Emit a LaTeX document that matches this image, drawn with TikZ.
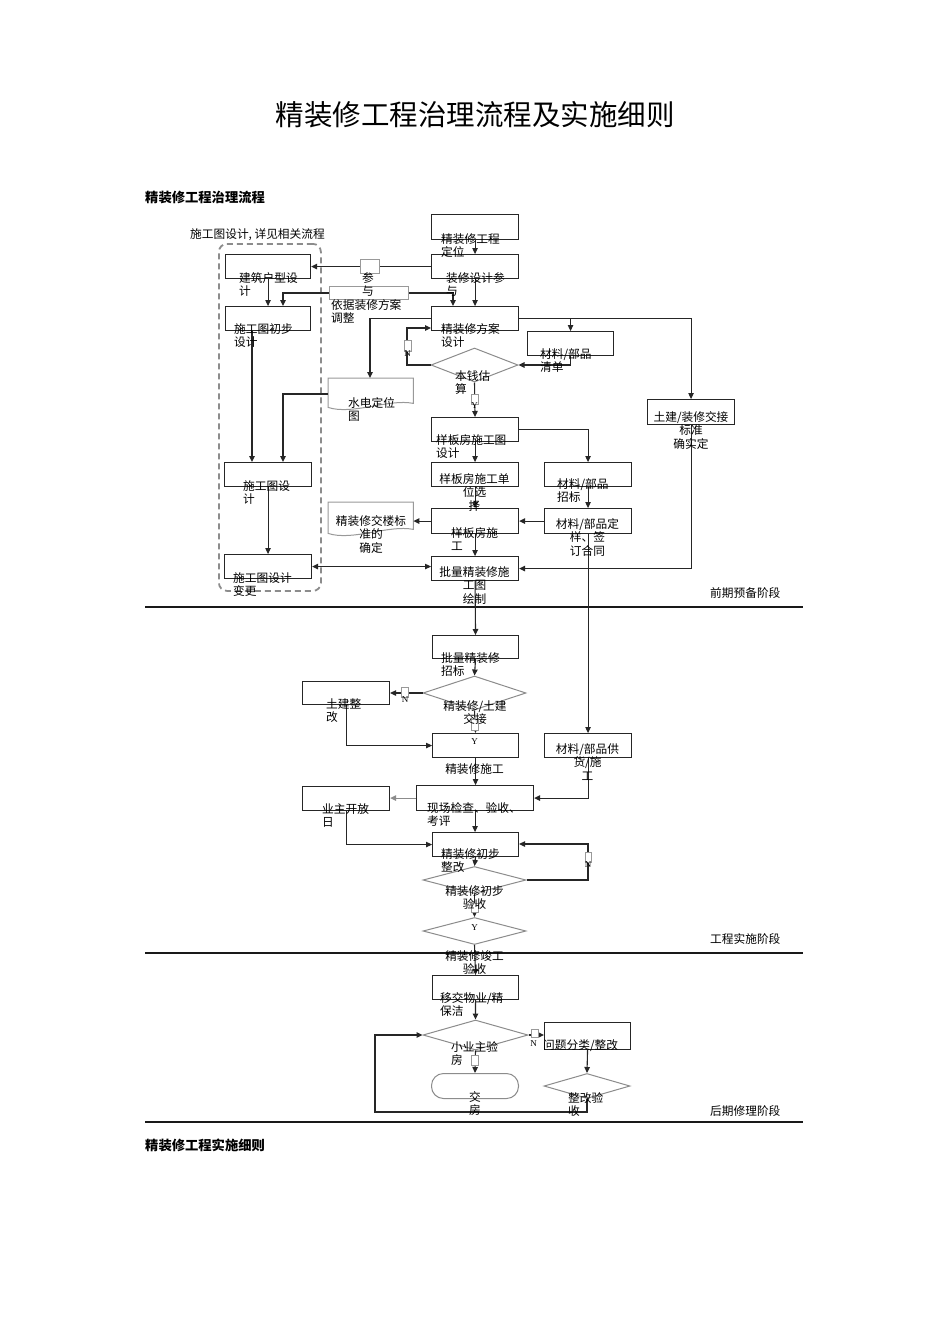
\documentclass[tikz,border=0pt]{standalone}
\usepackage{fontspec}
\setmainfont{Liberation Serif}
\newfontfamily\cjk{Noto Sans CJK SC}
\usetikzlibrary{arrows.meta,shapes.geometric,calc}
\begin{document}
\begin{tikzpicture}[x=1pt,y=-1pt,
  box/.style={draw=black!85,line width=1.1pt,rectangle,inner sep=0pt,anchor=north west},
  dia/.style={draw=black!45,line width=1pt,diamond,inner sep=0pt},
  docshape/.style={draw=black!40,fill=white,line width=1pt},
  tag/.style={draw=black!40,fill=white,line width=0.5pt,rectangle,inner sep=0pt,anchor=north west},
  lbl/.style={inner sep=0pt,anchor=north west,align=left,font=\cjk\fontsize{11.7}{13.5}\selectfont},
  lblc/.style={inner sep=0pt,anchor=north,align=center,font=\cjk\fontsize{11.7}{13.5}\selectfont},
  phase/.style={inner sep=0pt,anchor=north west,font=\cjk\fontsize{11.7}{13.5}\selectfont},
  yn/.style={inner sep=0pt,font=\fontsize{9}{10}\selectfont},
  arr/.style={draw=black!85,line width=1.1pt,-{Triangle[length=6pt,width=5.5pt]}},
  arrg/.style={draw=black!45,line width=1.1pt,-{Triangle[length=6pt,width=5.5pt]}},
  arrb/.style={draw=black!85,line width=1.1pt,{Triangle[length=6pt,width=5.5pt]}-{Triangle[length=6pt,width=5.5pt]}},
]
\useasboundingbox[fill=white] (0,0) rectangle (950,1344);

% title and headings
\node[inner sep=0pt,font=\cjk\fontsize{28.5}{30}\selectfont] (title) at (475,115) {精装修工程治理流程及实施细则};
\node[inner sep=0pt,anchor=west,font=\cjk\bfseries\fontsize{13.3}{15}\selectfont] (h1) at (145,197) {精装修工程治理流程};
\node[inner sep=0pt,anchor=west,font=\cjk\bfseries\fontsize{13.3}{15}\selectfont] (h2) at (145,1145) {精装修工程实施细则};

% dashed group
\node[draw=black!45,dash pattern=on 6pt off 4pt,line width=1.8pt,rounded corners=8pt,minimum width=102pt,minimum height=347pt,anchor=north west,inner sep=0pt] (grp) at (218,243) {};

% phase separators
\draw[line width=2.2pt,black!90] (145,607) -- (803,607);
\draw[line width=1.1pt,black!90] (145,953) -- (803,953);
\draw[line width=2.2pt,black!90] (145,1122) -- (803,1122);

% boxes
\node[box,minimum width=87pt,minimum height=25pt] (dw) at (431,214) {};
\node[box,minimum width=87pt,minimum height=24pt] (cy) at (431,254) {};
\node[box,minimum width=85pt,minimum height=24pt] (hx) at (225,254) {};
\node[box,minimum width=85pt,minimum height=24pt] (cb) at (225,306) {};
\node[box,minimum width=87pt,minimum height=24pt] (fa) at (431,306) {};
\node[box,minimum width=86pt,minimum height=24pt] (qd) at (527,331) {};
\node[box,minimum width=87pt,minimum height=25pt] (tj) at (647,399) {};
\node[box,minimum width=87pt,minimum height=24pt] (ybt) at (431,417) {};
\node[box,minimum width=87pt,minimum height=24pt] (sgt) at (224,462) {};
\node[box,minimum width=87pt,minimum height=24pt] (xz) at (431,462) {};
\node[box,minimum width=87pt,minimum height=24pt] (zb) at (544,462) {};
\node[box,minimum width=87pt,minimum height=25pt] (yb) at (431,508) {};
\node[box,minimum width=87pt,minimum height=25pt] (dy) at (544,508) {};
\node[box,minimum width=87pt,minimum height=24pt] (bg) at (224,554) {};
\node[box,minimum width=87pt,minimum height=24pt] (ph) at (431,556) {};
\node[box,minimum width=86pt,minimum height=23pt] (pz) at (432,635) {};
\node[box,minimum width=87pt,minimum height=23pt] (tz) at (302,681) {};
\node[box,minimum width=86pt,minimum height=24pt] (jsg) at (432,733) {};
\node[box,minimum width=87pt,minimum height=24pt] (gh) at (544,733) {};
\node[box,minimum width=117pt,minimum height=25pt] (xc) at (416,785) {};
\node[box,minimum width=87pt,minimum height=24pt] (yz) at (302,786) {};
\node[box,minimum width=86pt,minimum height=24pt] (cz) at (432,832) {};
\node[box,minimum width=86pt,minimum height=24pt] (yj) at (432,975) {};
\node[box,minimum width=86pt,minimum height=27pt] (wt) at (544,1022) {};
\node[draw=black!45,line width=1pt,rounded corners=12pt,minimum width=87pt,minimum height=25pt,anchor=north west,inner sep=0pt] (jf) at (431,1073) {};

% diamonds
\node[dia,minimum width=87pt,minimum height=34pt] (d1) at (474.5,365) {};
\node[dia,minimum width=103pt,minimum height=34pt] (d2) at (474.5,693) {};
\node[dia,minimum width=103pt,minimum height=27pt] (d3) at (474.5,880) {};
\node[dia,minimum width=103pt,minimum height=27pt] (d4) at (474.5,931) {};
\node[dia,minimum width=105pt,minimum height=30pt] (d5) at (475.5,1035) {};
\node[dia,minimum width=86pt,minimum height=25pt] (d6) at (587,1086) {};

% document shapes
\node[inner sep=0pt,minimum width=85pt,minimum height=29pt,anchor=north west] (sd) at (328,378) {};
\draw[docshape] (sd.south west) -- (sd.north west) -- (sd.north east) -- ([yshift=4pt]sd.south east)
  .. controls ([xshift=18pt,yshift=9pt]sd.south) and ([xshift=-18pt,yshift=-8pt]sd.south) .. (sd.south west) -- cycle;
\node[inner sep=0pt,minimum width=85pt,minimum height=31pt,anchor=north west] (jl) at (328,502) {};
\draw[docshape] (jl.south west) -- (jl.north west) -- (jl.north east) -- ([yshift=4pt]jl.south east)
  .. controls ([xshift=18pt,yshift=9pt]jl.south) and ([xshift=-18pt,yshift=-8pt]jl.south) .. (jl.south west) -- cycle;

% connectors
\draw[arr] (dw.south) -- (cy.north);
\draw[arr] (cy.west) -- (hx.east);
\draw[arr] (cy.south) -- (fa.north);
\coordinate (adjL) at (283,293);
\coordinate (adjR) at (453,293);
\draw[arrb] ([xshift=58pt]cb.north west) -- (adjL) -- (adjR) -- ([xshift=22pt]fa.north west);
\draw[arr] (hx.south) -- (cb.north);
\draw[arr] ([xshift=27pt]cb.south west) -- ([xshift=27pt]cb.south west |- sgt.north);
\draw[arr] (fa.west) -| ([xshift=42pt]sd.north west);
\draw[arr] ([yshift=-16pt]sd.north west) -| ([xshift=59pt]sgt.north west);
\draw[arr] (fa.east) -| (tj.north);
\draw[arr] (fa.east -| qd.north) -- (qd.north);
\draw[arr] (qd.south) |- (d1.east);
\coordinate (n1) at (407,328);
\draw[arr] (d1.west) -| (n1) -- (n1 -| fa.west);
\draw[arr] (d1.south) -- (ybt.north);
\draw[arr] (ybt.south) -- (xz.north);
\draw[arr] (ybt.east) -| (zb.north);
\draw[arr] (zb.south) -- (dy.north);
\draw[arr] (dy.west) -- (yb.east);
\draw[arr] (yb.west) -- (yb.west -| jl.east);
\draw[arr] (xz.south) -- (yb.north);
\draw[arr] (yb.south) -- (ph.north);
\draw[arr] (sgt.south) -- (bg.north);
\draw[arrb] (bg.east) -- (bg.east -| ph.west);
\draw[arr] (tj.south) |- (ph.east);
\draw[arr] (dy.south) -- (gh.north);
\draw[arr] (ph.south) -- (pz.north);
\draw[arr] (pz.south) -- (d2.north);
\draw[arr] (d2.west) -- (d2.west -| tz.east);
\draw[arr] (tz.south) |- (jsg.west);
\draw[arr] (d2.south) -- (jsg.north);
\draw[arr] (jsg.south) -- (jsg.south |- xc.north);
\draw[arr] (gh.south) |- (xc.east);
\draw[arrg] (xc.west) -- (xc.west -| yz.east);
\draw[arr] (yz.south) |- (cz.west);
\draw[arr] (xc.south) -- (xc.south |- cz.north);
\draw[arr] (cz.south) -- (d3.north);
\coordinate (n3) at (588,844);
\draw[arr] (d3.east) -| (n3) -- (n3 -| cz.east);
\draw[arr] (d3.south) -- (d4.north);
\draw[arr] (d4.south) -- (yj.north);
\draw[arr] (yj.south) -- (d5.north);
\draw[arr] (d5.east) -- (d5.east -| wt.west);
\draw[arr] (wt.south) -- (d6.north);
\coordinate (lp) at (375,1112);
\draw[arr] (d6.south) |- (lp) |- (d5.west);
\draw[arr] (d5.south) -- (jf.north);

% connector tags
\node[tag,minimum width=19pt,minimum height=14pt] (tgcan) at (360,259) {};
\node[tag,minimum width=79pt,minimum height=13pt] (tgyj) at (329,286) {};
\node[tag,minimum width=7pt,minimum height=11pt] (tgn1) at (404,340) {};
\node[tag,minimum width=7pt,minimum height=10pt] (tgy1) at (471,394) {};
\node[tag,minimum width=7pt,minimum height=10pt] (tgn2) at (401,687) {};
\node[tag,minimum width=7pt,minimum height=11pt] (tgy2) at (471,719) {};
\node[tag,minimum width=6pt,minimum height=10pt] (tgn3) at (585,852) {};
\node[tag,minimum width=7pt,minimum height=9pt] (tgy3) at (471,903) {};
\node[tag,minimum width=7pt,minimum height=8pt] (tgn4) at (531,1029) {};
\node[tag,minimum width=7pt,minimum height=10pt] (tgy5) at (471,1055) {};

% Y / N letters
\node[yn] (ln1) at (407.5,354) {N};
\node[yn] (ly1) at (474.5,406) {Y};
\node[yn] (ln2) at (405,700) {N};
\node[yn] (ly2) at (474.5,742) {Y};
\node[yn] (ln3) at (588,865) {N};
\node[yn] (ly3) at (474.5,928) {Y};
\node[yn] (ln4) at (533.5,1044) {N};

% texts
\node[lbl] (t1) at (190,228) {施工图设计, 详见相关流程};
\node[lbl] (tdw) at (441,233) {精装修工程\\定位};
\node[lbl] (tcy) at (446,272) {装修设计参\\与};
\node[lbl] (thx) at (239,272) {建筑户型设\\计};
\node[lbl] (tcb) at (234,323) {施工图初步\\设计};
\node[lbl] (tfa) at (441,323) {精装修方案\\设计};
\node[lbl] (tcan) at (362,272) {参\\与};
\node[lbl] (tyj) at (331,299) {依据装修方案\\调整};
\node[lbl] (tqd) at (540,348) {材料/部品\\清单};
\node[lbl] (td1) at (455,370) {本钱估\\算};
\node[lbl] (tsd) at (348,397) {水电定位\\图};
\node[lbl] (tybt) at (436,434) {样板房施工图\\设计};
\node[lblc] (ttj) at (691,411) {土建/装修交接\\标准\\确实定};
\node[lbl] (tsgt) at (243,480) {施工图设\\计};
\node[lblc] (txz) at (474.5,473) {样板房施工单\\位选\\择};
\node[lbl] (tzb) at (557,478) {材料/部品\\招标};
\node[lblc] (tjl) at (371,515) {精装修交楼标\\准的\\确定};
\node[lbl] (tyb) at (451,527) {样板房施\\工};
\node[lblc] (tdy) at (587.5,518) {材料/部品定\\样、签\\订合同};
\node[lbl] (tbg) at (233,572) {施工图设计\\变更};
\node[lblc] (tph) at (474.5,566) {批量精装修施\\工图\\绘制};
\node[phase] (p1) at (710,587) {前期预备阶段};
\node[lbl] (tpz) at (441,652) {批量精装修\\招标};
\node[lbl] (ttz) at (326,698) {土建整\\改};
\node[lblc] (td2) at (475,700) {精装修/土建\\交接};
\node[lblc] (tjsg) at (474.5,763) {精装修施工};
\node[lblc] (tgh) at (587.5,743) {材料/部品供\\货/施\\工};
\node[lbl] (txc) at (427,802) {现场检查、验收、\\考评};
\node[lbl] (tyz) at (322,803) {业主开放\\日};
\node[lbl] (tcz) at (441,848) {精装修初步\\整改};
\node[lblc] (td3) at (474.5,885) {精装修初步\\验收};
\node[lblc] (td4) at (474.5,950) {精装修竣工\\验收};
\node[phase] (p2) at (710,933) {工程实施阶段};
\node[lbl] (tyj2) at (440,992) {移交物业/精\\保洁};
\node[lbl] (td5) at (451,1041) {小业主验\\房};
\node[lbl] (twt) at (543,1039) {问题分类/整改};
\node[lblc] (tjf) at (475,1091) {交\\房};
\node[lbl] (td6) at (568,1092) {整改验\\收};
\node[phase] (p3) at (710,1105) {后期修理阶段};
\end{tikzpicture}
\end{document}
